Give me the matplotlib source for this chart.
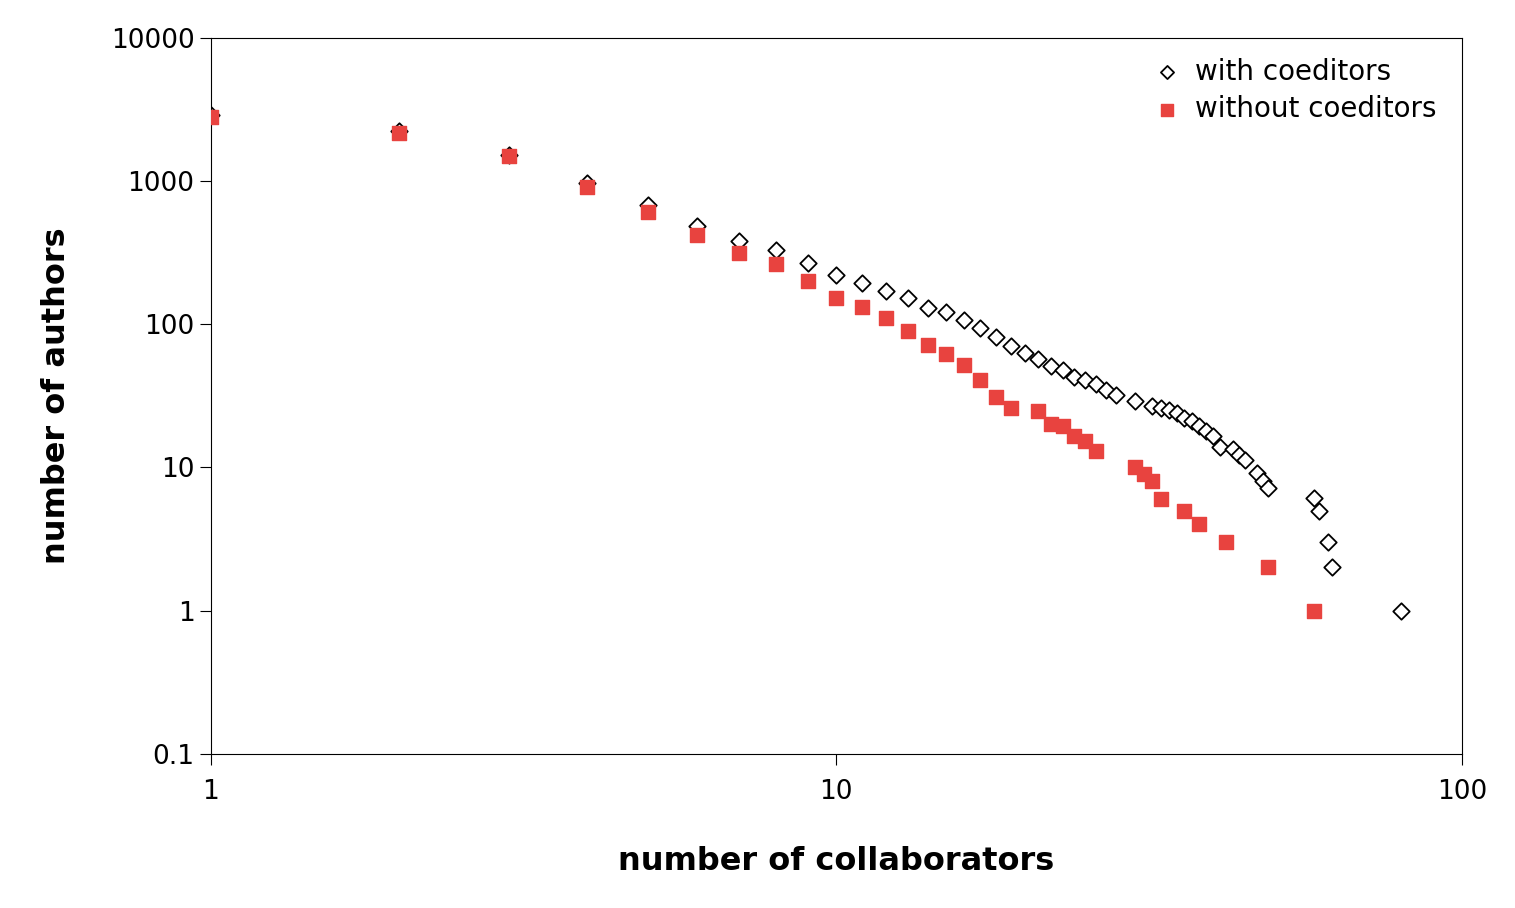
import matplotlib
matplotlib.use("Agg")
import matplotlib.pyplot as plt
from matplotlib.ticker import FixedLocator, FixedFormatter, NullLocator

x_with = [1,2,3,4,5,6,7,8,9,10,11,12,13,14,15,16,17,18,19,20,21,22,23,24,25,26,27,28,30,32,33,34,35,36,37,38,39,40,41,43,44,45,47,48,49,58,59,61,62,80]
y_with = [2890,2240,1520,970,680,490,385,330,268,220,194,170,152,131,121,108,95,81,71,63,57,51,48,43,41,38,35,32,29,27,26,25,24,22,21,19.6,18,16.7,14,13.5,12.3,11.2,9.2,8.1,7.2,6.1,5,3,2,1]
x_wo = [1,2,3,4,5,6,7,8,9,10,11,12,13,14,15,16,17,18,19,21,22,23,24,25,26,30,31,32,33,36,38,42,49,58]
y_wo = [2800,2170,1490,910,610,420,315,262,200,152,133,110,90,72,62,52,41,31,26,24.6,20,19.4,16.5,15.4,13,10,9,8,6,5,4,3,2,1]

fig = plt.figure(figsize=(15.15, 9.08), dpi=100)
ax = fig.add_axes([0.139, 0.170, 0.826, 0.788])
ax.set_xscale('log'); ax.set_yscale('log')
ax.set_xlim(1, 100); ax.set_ylim(0.1, 10000)
ax.scatter(x_with, y_with, marker='D', s=70, facecolors='white', edgecolors='black', linewidths=1.3, label='with coeditors', zorder=2)
ax.scatter(x_wo, y_wo, marker='s', s=115, color='#e8433f', label='without coeditors', zorder=3)
yt = [0.1, 1, 10, 100, 1000, 10000]
ax.yaxis.set_major_locator(FixedLocator(yt))
ax.yaxis.set_major_formatter(FixedFormatter(['0.1','1','10','100','1000','10000']))
ax.yaxis.set_minor_locator(NullLocator())
ax.xaxis.set_major_locator(FixedLocator([1,10,100]))
ax.xaxis.set_major_formatter(FixedFormatter(['1','10','100']))
ax.xaxis.set_minor_locator(NullLocator())
ax.tick_params(labelsize=19, length=8, direction='out')
ax.tick_params(axis='x', pad=10)
ax.set_xlabel('number of collaborators', fontsize=23, fontweight='bold', labelpad=30)
ax.set_ylabel('number of authors', fontsize=23, fontweight='bold', labelpad=28)
ax.legend(loc='upper right', fontsize=20, frameon=False, handletextpad=0.0, borderaxespad=0.3,
          labelspacing=0.35, markerscale=0.8, bbox_to_anchor=(0.995, 1.0))
fig.savefig('out.png', dpi=100)
